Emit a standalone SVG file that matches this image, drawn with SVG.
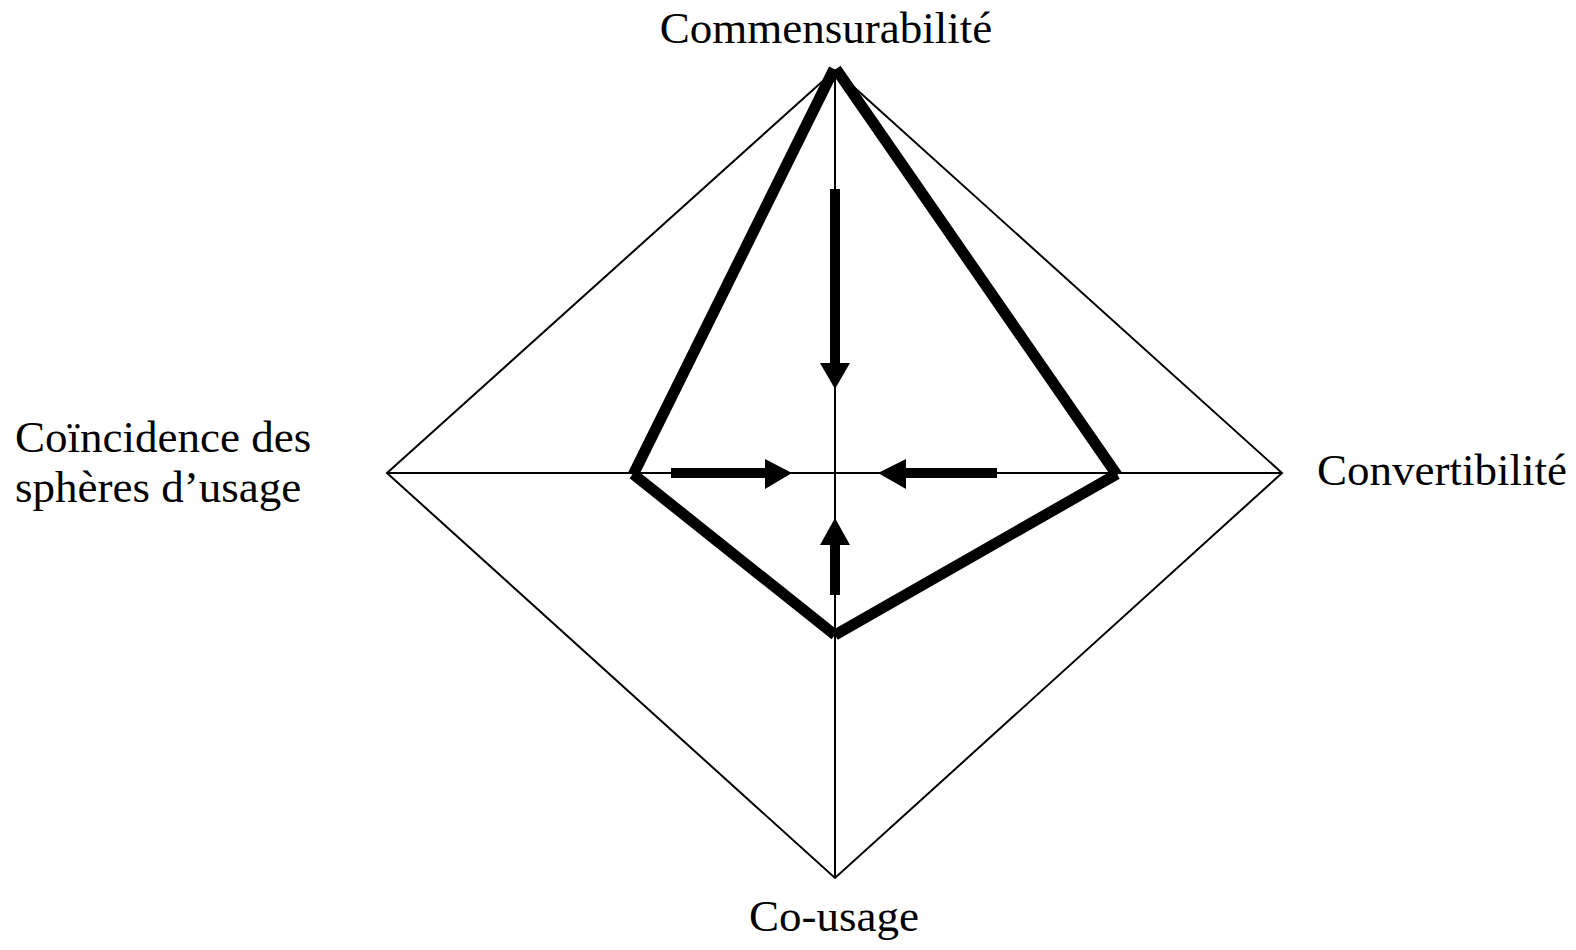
<svg xmlns="http://www.w3.org/2000/svg" width="1576" height="950" viewBox="0 0 1576 950">
<style>
.thin{stroke:#000;stroke-width:2;fill:none}
.thick{stroke:#000;stroke-width:11;fill:none;stroke-linecap:butt}
.shaft{stroke:#000;stroke-width:10;fill:none}
.head{fill:#000}
.lbl{font-family:"Liberation Serif","Times New Roman",serif;font-size:45px;fill:#000}
</style>
<rect width="1576" height="950" fill="#fff"/>
<g id="connectors">
<polygon class="thin" points="835,70 1282,473 835,878 387,473"/>
<line class="thin" x1="387" y1="473" x2="1282" y2="473"/>
<line class="thin" x1="835" y1="70" x2="835" y2="878"/>
<line class="thick" x1="633" y1="475" x2="834" y2="69"/>
<line class="thick" x1="836" y1="69" x2="1117" y2="475"/>
<line class="thick" x1="633" y1="474" x2="835" y2="635"/>
<line class="thick" x1="835" y1="635" x2="1117" y2="474"/>
<line class="shaft" x1="835" y1="189" x2="835" y2="364"/>
<polygon class="head" points="820,363 850,363 835,389"/>
<line class="shaft" x1="671" y1="473" x2="767" y2="473"/>
<polygon class="head" points="765,459 765,489 792,473"/>
<line class="shaft" x1="997" y1="473" x2="904" y2="473"/>
<polygon class="head" points="906,459 906,489 878,473"/>
<line class="shaft" x1="835" y1="595" x2="835" y2="543"/>
<polygon class="head" points="820,545 850,545 835,518"/>
</g>
<g id="node-commensurabilite"><text class="lbl" x="826" y="43" text-anchor="middle">Commensurabilité</text></g>
<g id="node-convertibilite"><text class="lbl" x="1317" y="485">Convertibilité</text></g>
<g id="node-cousage"><text class="lbl" x="834" y="931" text-anchor="middle">Co-usage</text></g>
<g id="node-coincidence"><text class="lbl" x="15" y="452">Coïncidence des</text><text class="lbl" x="15" y="502">sphères d’usage</text></g>
</svg>
